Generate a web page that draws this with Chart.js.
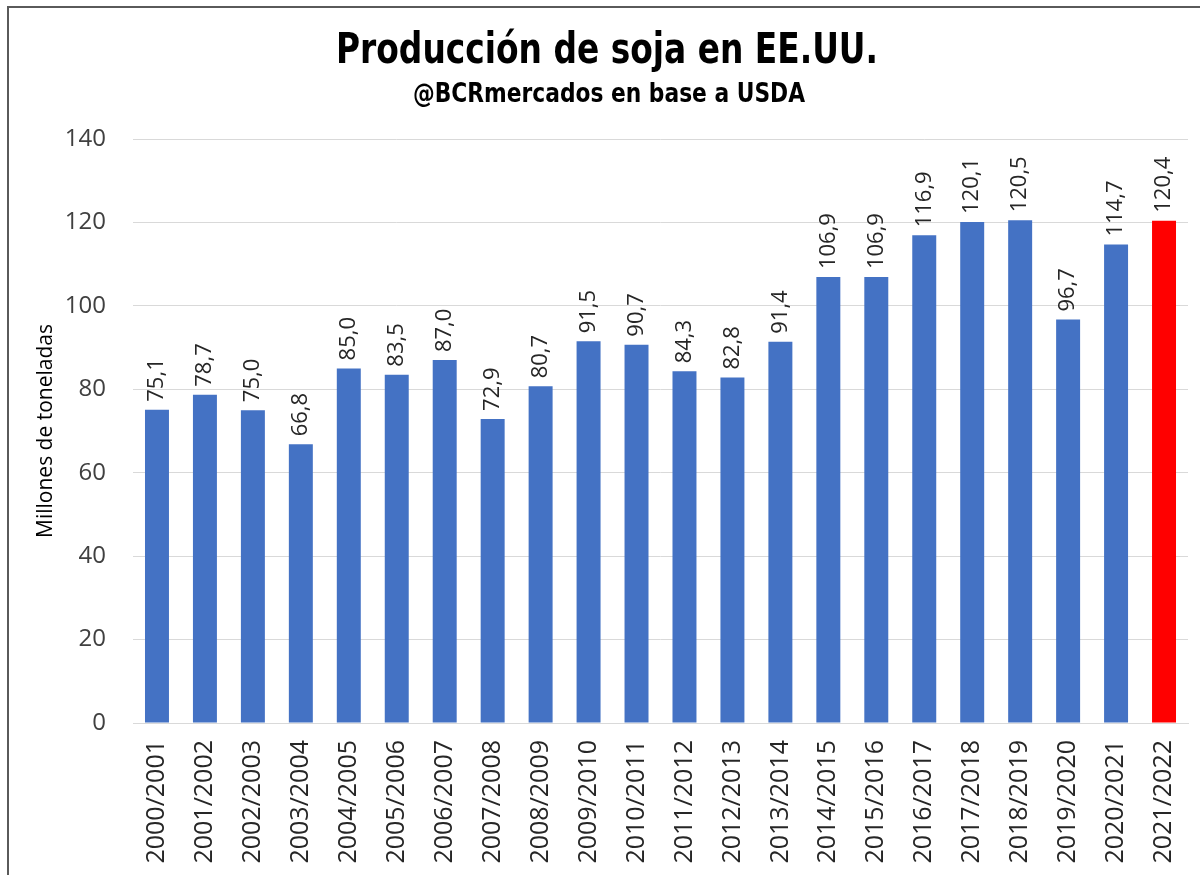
<!DOCTYPE html>
<html>
<head>
<meta charset="utf-8">
<script src="https://cdn.jsdelivr.net/npm/chart.js@4/dist/chart.umd.min.js"></script>
<style>
  html, body { margin: 0; padding: 0; background: #ffffff; }
  #wrap { width: 1200px; height: 875px; position: relative; }
</style>
</head>
<body>
<div id="wrap"><canvas id="c" width="1200" height="875"></canvas></div>
<script>
const categories = [
  "2000/2001", "2001/2002", "2002/2003", "2003/2004", "2004/2005", "2005/2006",
  "2006/2007", "2007/2008", "2008/2009", "2009/2010", "2010/2011", "2011/2012",
  "2012/2013", "2013/2014", "2014/2015", "2015/2016", "2016/2017", "2017/2018",
  "2018/2019", "2019/2020", "2020/2021", "2021/2022"
];
const production = [
  75.1, 78.7, 75.0, 66.8, 85.0, 83.5, 87.0, 72.9, 80.7, 91.5, 90.7,
  84.3, 82.8, 91.4, 106.9, 106.9, 116.9, 120.1, 120.5, 96.7, 114.7, 120.4
];
const yTicks = [0, 20, 40, 60, 80, 100, 120, 140];
const titleText = "Producción de soja en EE.UU.";
const subtitleText = "@BCRmercados en base a USDA";
const yAxisTitle = "Millones de toneladas";
const highlightCategory = "2021/2022";

const BLUE = "#4472C4";
const RED = "#FF0000";
const barColors = categories.map(c => c === highlightCategory ? RED : BLUE);

const HEAD_FONT = '"DejaVu Sans Condensed", "DejaVu Sans", sans-serif';

function drawFittedText(ctx, text, font, cx, baseline, targetWidth, color) {
  ctx.save();
  ctx.font = font;
  ctx.fillStyle = color;
  ctx.textAlign = 'center';
  ctx.textBaseline = 'alphabetic';
  const w = ctx.measureText(text).width;
  const sx = targetWidth / w;
  ctx.translate(cx, baseline);
  ctx.scale(sx, 1);
  ctx.fillText(text, 0, 0);
  ctx.restore();
}

const framePlugin = {
  id: 'frame',
  beforeDraw(chart) {
    const ctx = chart.ctx;
    ctx.save();
    ctx.fillStyle = '#ffffff';
    ctx.fillRect(0, 0, chart.width, chart.height);
    ctx.strokeStyle = '#5a5a5a';
    ctx.lineWidth = 2;
    ctx.beginPath();
    ctx.moveTo(8, chart.height + 2);
    ctx.lineTo(8, 7);
    ctx.lineTo(chart.width + 2, 7);
    ctx.stroke();
    ctx.restore();
  },
  afterDraw(chart) {
    const ctx = chart.ctx;
    drawFittedText(ctx, titleText, 'bold 43px ' + HEAD_FONT, 607, 63, 542, '#000000');
    drawFittedText(ctx, subtitleText, 'bold 27px ' + HEAD_FONT, 609, 102, 392, '#000000');
  }
};

const valueLabelPlugin = {
  id: 'valueLabels',
  afterDatasetsDraw(chart) {
    const ctx = chart.ctx;
    const meta = chart.getDatasetMeta(0);
    ctx.save();
    ctx.font = '22px "Open Sans", sans-serif';
    ctx.fillStyle = '#262626';
    ctx.textAlign = 'left';
    ctx.textBaseline = 'middle';
    meta.data.forEach((bar, i) => {
      const v = chart.data.datasets[0].data[i];
      const txt = v.toFixed(1).replace('.', ',');
      ctx.save();
      ctx.translate(bar.x, bar.y - 8);
      ctx.rotate(-Math.PI / 2);
      ctx.fillText(txt, 0, 0);
      ctx.restore();
    });
    ctx.restore();
  }
};

new Chart(document.getElementById('c'), {
  type: 'bar',
  data: {
    labels: categories,
    datasets: [{
      data: production,
      backgroundColor: barColors,
      borderWidth: 0,
      categoryPercentage: 1.0,
      barPercentage: 0.5
    }]
  },
  options: {
    responsive: false,
    animation: false,
    layout: { padding: { left: 0, right: 12, top: 139, bottom: 0 } },
    plugins: {
      legend: { display: false },
      tooltip: { enabled: false },
      title: { display: false },
      subtitle: { display: false }
    },
    scales: {
      x: {
        grid: { display: false, drawTicks: false },
        border: { display: true, color: '#d9d9d9', width: 1 },
        ticks: {
          color: '#262626',
          font: { family: '"Open Sans", sans-serif', size: 25 },
          minRotation: 90,
          maxRotation: 90,
          padding: 17,
          autoSkip: false
        },
        afterFit(scale) {
          scale.height = 152;
          scale.paddingLeft = 0;
          scale.paddingRight = 0;
        }
      },
      y: {
        min: 0,
        max: 140,
        afterBuildTicks(scale) { scale.ticks = yTicks.map(v => ({ value: v })); },
        grid: { color: '#d9d9d9', drawTicks: false, lineWidth: 1 },
        border: { display: false },
        ticks: {
          color: '#404040',
          font: { family: '"Open Sans", sans-serif', size: 24 },
          padding: 27
        },
        title: {
          display: true,
          text: yAxisTitle,
          color: '#000000',
          font: { family: '"Open Sans", sans-serif', size: 21 },
          padding: { top: 33, bottom: 0 }
        },
        afterFit(scale) {
          scale.width = 133;
          scale.paddingTop = 0;
          scale.paddingBottom = 0;
        }
      }
    }
  },
  plugins: [framePlugin, valueLabelPlugin]
});
</script>
</body>
</html>
